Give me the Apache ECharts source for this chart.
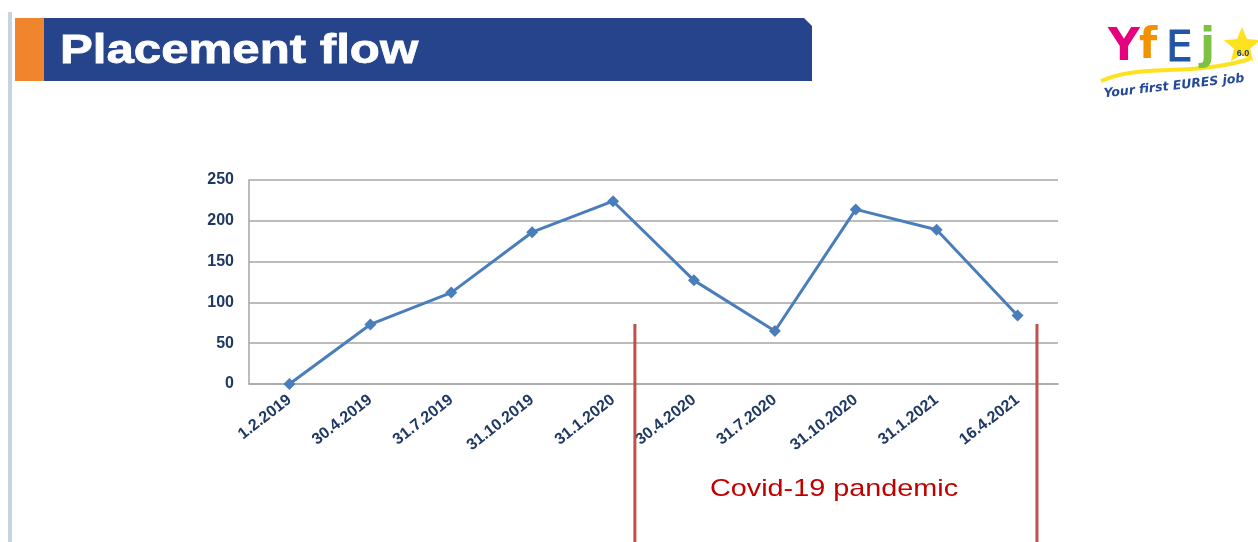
<!DOCTYPE html>
<html><head><meta charset="utf-8">
<script src="https://cdn.jsdelivr.net/npm/echarts@6/dist/echarts.min.js"></script>
<style>html,body{margin:0;padding:0;background:#fff}#c{width:1258px;height:542px}</style>
</head><body><div id="c"></div>
<script>
const categories = ['1.2.2019','30.4.2019','31.7.2019','31.10.2019','31.1.2020','30.4.2020','31.7.2020','31.10.2020','31.1.2021','16.4.2021'];
const placements = [0, 73, 112, 186, 224, 127, 65, 214, 189, 84];
const yTicks = [0, 50, 100, 150, 200, 250];
const covidStart = 4.77;   // in category units (0..10), between 31.1.2020 and 30.4.2020
const covidEnd = 9.74;     // just after 16.4.2021
const titleText = 'Placement flow';
const covidText = 'Covid-19 pandemic';

const chart = echarts.init(document.getElementById('c'), null, {renderer: 'canvas'});
const navy = '#1f3864';
const grey = '#a6a6a6';

// logo star outline (decoration)
const starPts = [];
for (let i = 0; i < 10; i++) {
  const r = i % 2 === 0 ? 19 : 8.5;
  const a = -Math.PI / 2 + i * Math.PI / 5;
  starPts.push([1242 + r * Math.cos(a), 46 + r * Math.sin(a)]);
}

chart.setOption({
  animation: false,
  backgroundColor: '#ffffff',
  grid: [
    {left: 249, right: 200, top: 180, bottom: 158},
    {left: 249, right: 200, top: 324, bottom: 0}
  ],
  xAxis: [
    {
      type: 'category', data: categories, boundaryGap: true, gridIndex: 0,
      axisTick: {show: false},
      axisLine: {show: true, lineStyle: {color: grey, width: 1.5}},
      axisLabel: {interval: 0, rotate: 38, margin: 14, color: navy, fontWeight: 'bold', fontSize: 16, fontFamily: 'Liberation Sans, Arial, sans-serif'},
      splitLine: {show: false}
    },
    {type: 'value', gridIndex: 1, min: 0, max: categories.length, show: false}
  ],
  yAxis: [
    {
      type: 'value', gridIndex: 0, min: yTicks[0], max: yTicks[yTicks.length - 1], interval: yTicks[1] - yTicks[0],
      axisTick: {show: false},
      axisLine: {show: true, lineStyle: {color: grey, width: 1.5}},
      axisLabel: {margin: 15, color: navy, fontWeight: 'bold', fontSize: 16, fontFamily: 'Liberation Sans, Arial, sans-serif'},
      splitLine: {show: true, lineStyle: {color: grey, width: 1.5}}
    },
    {type: 'value', gridIndex: 1, min: 0, max: 1, show: false}
  ],
  series: [
    {
      type: 'line', xAxisIndex: 0, yAxisIndex: 0, data: placements,
      symbol: 'diamond', symbolSize: 12,
      itemStyle: {color: '#4a7ebb'},
      lineStyle: {color: '#4a7ebb', width: 3}
    },
    {
      type: 'line', xAxisIndex: 1, yAxisIndex: 1, silent: true, symbol: 'none',
      data: [[covidStart, 0], [covidStart, 1]],
      lineStyle: {color: '#c0504d', width: 3}
    },
    {
      type: 'line', xAxisIndex: 1, yAxisIndex: 1, silent: true, symbol: 'none',
      data: [[covidEnd, 0], [covidEnd, 1]],
      lineStyle: {color: '#c0504d', width: 3}
    }
  ],
  graphic: [
    {type: 'rect', shape: {x: 8, y: 12, width: 4, height: 530}, style: {fill: '#c9d3e0'}, silent: true},
    {type: 'polygon', shape: {points: [[44, 18], [804, 18], [812, 26], [812, 81], [44, 81]]}, style: {fill: '#25448b'}, silent: true},
    {type: 'rect', shape: {x: 15, y: 18, width: 29, height: 63}, style: {fill: '#f0852d'}, silent: true},
    {type: 'text', x: 60, y: 52, scaleX: 1.2, style: {text: titleText, fill: '#ffffff', stroke: '#ffffff', lineWidth: 0.8, font: 'bold 41px "Liberation Sans", Arial, sans-serif', verticalAlign: 'middle', align: 'left'}, silent: true},
    {type: 'text', x: 834, y: 489, scaleX: 1.2, style: {text: covidText, fill: '#c00000', font: '24px "Liberation Sans", Arial, sans-serif', verticalAlign: 'middle', align: 'center'}, silent: true},
    // logo
    {type: 'bezierCurve', shape: {x1: 1101, y1: 81, x2: 1250, y2: 59, cpx1: 1140, cpy1: 63, cpx2: 1190, cpy2: 77}, style: {stroke: '#ffe21f', lineWidth: 4, fill: null}, silent: true},
    {type: 'polygon', shape: {points: starPts}, style: {fill: '#ffe21f'}, silent: true},
    {type: 'text', x: 1243, y: 54, style: {text: '6.0', fill: '#1d3d7a', font: 'bold 9px sans-serif', align: 'center', verticalAlign: 'middle'}, silent: true},
    {type: 'text', x: 1108, y: 49, style: {text: 'Y', fill: '#e5007d', font: 'bold 44px "DejaVu Sans", sans-serif', verticalAlign: 'middle'}, silent: true},
    {type: 'text', x: 1139, y: 47, style: {text: 'f', fill: '#f39200', font: 'bold 42px "DejaVu Sans", sans-serif', verticalAlign: 'middle'}, silent: true},
    {type: 'text', x: 1166, y: 50, style: {text: 'E', fill: '#2454a6', stroke: '#2454a6', lineWidth: 1, font: '42px "DejaVu Sans", sans-serif', verticalAlign: 'middle'}, silent: true},
    {type: 'text', x: 1200, y: 48, style: {text: 'j', fill: '#7dc242', font: 'bold 44px "DejaVu Sans", sans-serif', verticalAlign: 'middle'}, silent: true},
    {type: 'text', x: 1104, y: 94, rotation: 0.11, style: {text: 'Your first EURES job', fill: '#24499a', font: 'italic bold 12.5px "DejaVu Sans", sans-serif', verticalAlign: 'middle'}, silent: true}
  ]
});
</script></body></html>
